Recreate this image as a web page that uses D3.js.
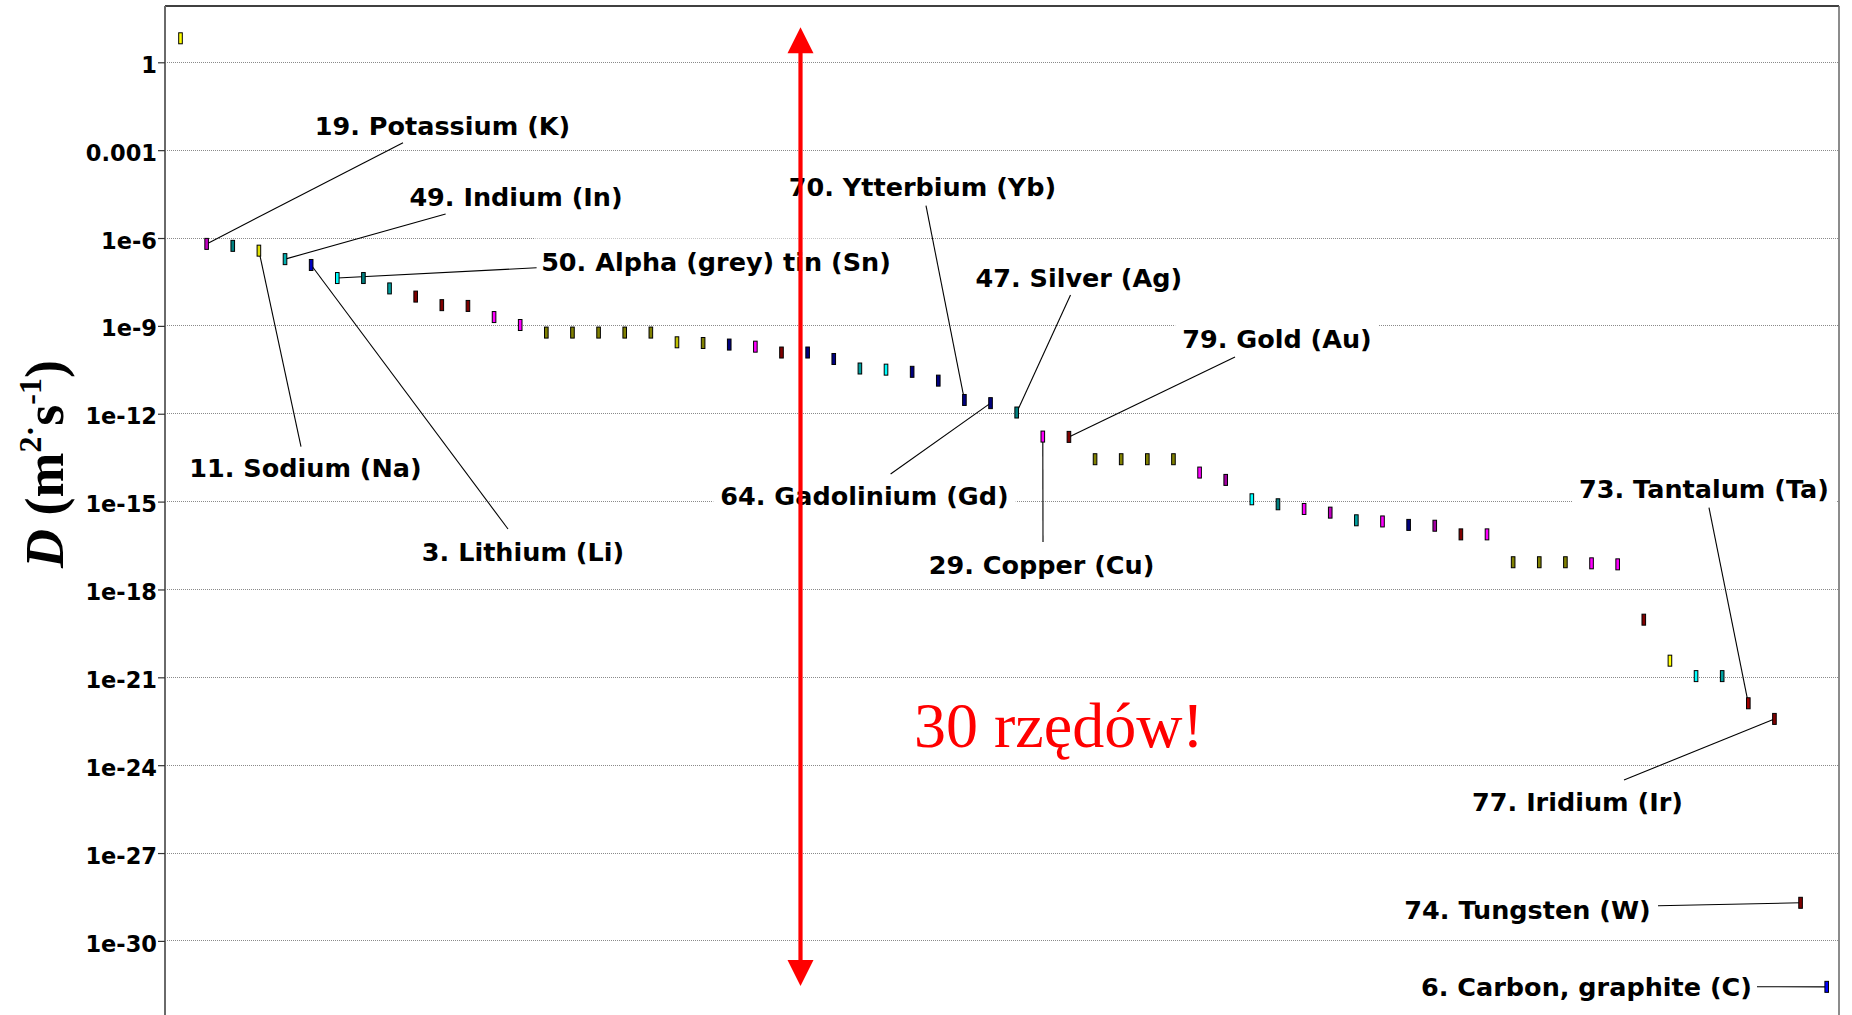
<!DOCTYPE html>
<html><head><meta charset="utf-8">
<script src="https://cdn.jsdelivr.net/npm/d3@7"></script>
<style>html,body{margin:0;padding:0;background:#fff}svg{display:block}</style>
</head><body>
<svg id="chart" width="1852" height="1015"></svg>
<script>
// ---------- data ----------
const categories = ["1","2","3","4","5","6","7","8","9","10","11","12","13","14","15","16",
  "17","18","19","20","21","22","23","24","25","26","27","28","29","30","31","32",
  "33","34","35","36","37","38","39","40","41","42","43","44","45","46","47","48",
  "49","50","51","52","53","54","55","56","57","58","59","60","61","62","63","64"];

// diffusion coefficient D (m^2 s^-1)
const values = [6.6, 6.3e-7, 5.4e-7, 3.7e-7, 1.9e-7, 1.2e-7, 4.3e-8, 4.3e-8,
  1.9e-8, 1.0e-8, 5.1e-9, 4.8e-9, 2.0e-9, 1.07e-9, 5.9e-10, 5.9e-10,
  5.9e-10, 5.9e-10, 5.9e-10, 2.75e-10, 2.6e-10, 2.3e-10, 1.95e-10, 1.23e-10,
  1.23e-10, 7.4e-11, 3.5e-11, 3.2e-11, 2.7e-11, 1.35e-11, 2.95e-12, 2.3e-12,
  1.1e-12, 1.66e-13, 1.62e-13, 2.8e-14, 2.8e-14, 2.8e-14, 2.8e-14, 9.8e-15,
  5.5e-15, 1.2e-15, 8.1e-16, 5.6e-16, 4.2e-16, 2.3e-16, 2.1e-16, 1.6e-16,
  1.5e-16, 7.6e-17, 7.6e-17, 8.5e-18, 8.5e-18, 8.5e-18, 7.8e-18, 7.2e-18,
  9.3e-20, 3.7e-21, 1.1e-21, 1.1e-21, 1.3e-22, 3.8e-23, 2.0e-29, 2.7e-32];

const tickValues = [1, 1e-3, 1e-6, 1e-9, 1e-12, 1e-15, 1e-18, 1e-21, 1e-24, 1e-27, 1e-30];
const tickLabels = ["1","0.001","1e-6","1e-9","1e-12","1e-15","1e-18","1e-21","1e-24","1e-27","1e-30"];

const labelTexts = ["19. Potassium (K)","49. Indium (In)","50. Alpha (grey) tin (Sn)",
  "11. Sodium (Na)","3. Lithium (Li)","70. Ytterbium (Yb)","47. Silver (Ag)",
  "79. Gold (Au)","64. Gadolinium (Gd)","29. Copper (Cu)","73. Tantalum (Ta)",
  "77. Iridium (Ir)","74. Tungsten (W)","6. Carbon, graphite (C)"];
const labelPoint = ["2","5","7","4","6","31","33","35","32","34","61","62","63","64"];

const noteText = "30 rzędów!";
const arrowSpan = [10 ** 1.2, 10 ** -31.54];

// ---------- styles / layout ----------
const pointColors = ["#ffff00","#c000c0","#008080","#e0e000","#00b0b0","#0000c0","#00ffff","#008080",
  "#00a0a0","#800000","#800000","#800000","#ff00ff","#ff00ff","#808000","#808000",
  "#808000","#808000","#808000","#c0c000","#808000","#000080","#ff00ff","#800000",
  "#000080","#000080","#00a0a0","#00ffff","#000080","#000080","#000080","#000080",
  "#008080","#ff00ff","#800000","#808000","#808000","#808000","#808000","#ff00ff",
  "#a000a0","#00ffff","#008080","#ff00ff","#c000c0","#00a0a0","#ff00ff","#000080",
  "#a000a0","#800000","#ff00ff","#808000","#808000","#808000","#ff00ff","#ff00ff",
  "#800000","#ffff00","#00ffff","#00a0a0","#a00000","#800000","#800000","#0000ff"];

// label text centre x / baseline y, and where the leader line leaves the label
const labelPos = [[442.5,134.5],[516,206.3],[716,271],[305.5,477.3],[523,560.8],[922.5,196.3],
  [1078.8,287.3],[1277,348.3],[864.5,505.3],[1041.5,574.3],[1704,498.3],[1577.5,811],
  [1527.5,919.3],[1586.5,996]];
const leaderFrom = [[403,142.7],[445.6,214],[536.6,267.7],[301,446.7],[508,529],[926,205.7],
  [1070.5,295],[1235,357],[890.6,474],[1043,542],[1709,507.7],[1624,780],[1658,905.7],[1757,986.7]];

const W = 1852, H = 1015;
const plot = {left: 165, right: 1839, top: 6, bottom: 1015};

const svg = d3.select("#chart");

const x = d3.scalePoint().domain(categories).range([180.5, 1826.7]);
const y = d3.scaleLog().domain([10 ** 1.922, 10 ** -32.53]).range([plot.top, plot.bottom]);

// gridlines
svg.append("g").selectAll("line").data(tickValues).join("line")
  .attr("x1", plot.left).attr("x2", plot.right)
  .attr("y1", d => y(d)).attr("y2", d => y(d))
  .attr("stroke", "#8a8a8a").attr("stroke-width", 1).attr("stroke-dasharray", "1,1")
  .attr("shape-rendering", "crispEdges");

// borders
svg.append("line").attr("x1", plot.left).attr("x2", plot.right).attr("y1", plot.top).attr("y2", plot.top)
  .attr("stroke", "#000").attr("stroke-width", 1.5);
svg.append("line").attr("x1", plot.right).attr("x2", plot.right).attr("y1", plot.top).attr("y2", plot.bottom)
  .attr("stroke", "#666").attr("stroke-width", 1.5);

// y axis
const yAxis = d3.axisLeft(y).tickValues(tickValues)
  .tickFormat((d, i) => tickLabels[i]).tickSize(7).tickPadding(1).tickSizeOuter(0);
const ag = svg.append("g").attr("transform", `translate(${plot.left},0)`).call(yAxis);
ag.select(".domain").attr("stroke", "#6a6a6a").attr("stroke-width", 2)
  .attr("d", `M0,${plot.top}V${plot.bottom}`);
ag.selectAll(".tick line").attr("stroke", "#333").attr("stroke-width", 1.2);
ag.selectAll(".tick text").attr("font-family", "DejaVu Sans").attr("font-weight", "bold")
  .attr("font-size", 22.5).attr("fill", "#000").attr("dy", "0.45em");

// y axis title
const title = svg.append("text")
  .attr("transform", "translate(63,464) rotate(-90)")
  .attr("text-anchor", "middle")
  .attr("font-family", "Liberation Serif").attr("font-weight", "bold").attr("font-size", 54)
  .attr("fill", "#000");
title.append("tspan").attr("font-style", "italic").text("D");
title.append("tspan").text(" (m");
title.append("tspan").attr("font-size", 32).attr("dy", -22).text("2");
title.append("tspan").attr("font-size", 32).text("·");
title.append("tspan").attr("dy", 22).text("s");
title.append("tspan").attr("font-size", 32).attr("dy", -22).text("-1");
title.append("tspan").attr("dy", 22).text(")");

// labels with white boxes
const lg = svg.append("g");
labelTexts.forEach((t, i) => {
  const g = lg.append("g");
  const rect = g.append("rect").attr("fill", "#fff");
  const txt = g.append("text").attr("x", labelPos[i][0]).attr("y", labelPos[i][1])
    .attr("text-anchor", "middle").attr("font-family", "DejaVu Sans").attr("font-weight", "bold")
    .attr("font-size", 25.5).attr("fill", "#000").text(t);
  const b = txt.node().getBBox();
  rect.attr("x", b.x - 7).attr("y", b.y - 8.5).attr("width", b.width + 14).attr("height", b.height + 17);
});

// leader lines
svg.append("g").selectAll("line").data(labelPoint).join("line")
  .attr("x1", (d, i) => leaderFrom[i][0]).attr("y1", (d, i) => leaderFrom[i][1])
  .attr("x2", d => x(d)).attr("y2", d => y(values[categories.indexOf(d)]))
  .attr("stroke", "#000").attr("stroke-width", 1.1);

// markers
svg.append("g").selectAll("rect").data(values).join("rect")
  .attr("x", (d, i) => x(categories[i]) - 1.8)
  .attr("y", d => y(d) - 5.5)
  .attr("width", 3.6).attr("height", 11)
  .attr("fill", (d, i) => pointColors[i])
  .attr("stroke", "#000").attr("stroke-width", 1);

// red arrow
const ax = 800.5, yTop = y(arrowSpan[0]), yBot = y(arrowSpan[1]);
const head = 26, hw = 13;
svg.append("line").attr("x1", ax).attr("x2", ax).attr("y1", yTop + head - 2).attr("y2", yBot - head + 2)
  .attr("stroke", "#ff0000").attr("stroke-width", 4.2);
svg.append("path").attr("fill", "#ff0000")
  .attr("d", `M${ax},${yTop}L${ax + hw},${yTop + head}L${ax - hw},${yTop + head}Z`);
svg.append("path").attr("fill", "#ff0000")
  .attr("d", `M${ax},${yBot}L${ax + hw},${yBot - head}L${ax - hw},${yBot - head}Z`);

svg.append("text").attr("x", 914).attr("y", 747)
  .attr("font-family", "Liberation Serif").attr("font-size", 64).attr("fill", "#ff0000")
  .text(noteText);
</script>
</body></html>
